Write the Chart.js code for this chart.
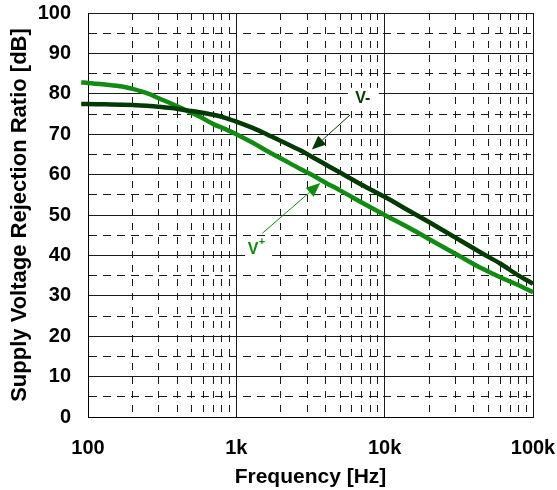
<!DOCTYPE html>
<html><head><meta charset="utf-8">
<script src="https://cdn.jsdelivr.net/npm/chart.js@4"></script>
<style>html,body{margin:0;padding:0;background:#fff}</style>
</head><body>
<canvas id="c" width="557" height="490"></canvas>
<script>
// ---- data ----
const freqHz   = [90, 100, 130, 170, 200, 260, 300, 380, 460, 550, 700, 850, 1000, 1300, 1600, 2000, 2700, 3200, 4000, 5000, 7000, 10000, 15000, 20000, 30000, 45000, 60000, 80000, 100000, 108000];
const vPlusDb  = [82.8, 82.7, 82.3, 81.8, 81.2, 79.9, 78.9, 77.3, 75.9, 74.6, 72.5, 71.2, 70.0, 67.8, 65.9, 64.0, 61.4, 60.0, 58.0, 56.1, 53.1, 50.0, 46.6, 44.0, 40.4, 36.8, 34.6, 32.6, 30.9, 30.3];
const vMinusDb = [77.5, 77.5, 77.4, 77.3, 77.2, 77.0, 76.8, 76.4, 75.9, 75.5, 74.8, 74.0, 73.1, 71.5, 70.0, 68.3, 66.0, 64.5, 62.5, 60.5, 57.5, 54.5, 50.8, 48.2, 44.4, 40.6, 38.0, 35.0, 33.0, 32.3];

const xTickValues = [100,200,300,400,500,600,700,800,900,1000,2000,3000,4000,5000,6000,7000,8000,9000,10000,20000,30000,40000,50000,60000,70000,80000,90000,100000];
const xDecades    = [100, 1000, 10000, 100000];
const xDecadeLabels = ['100', '1k', '10k', '100k'];
const yTickValues = [0,5,10,15,20,25,30,35,40,45,50,55,60,65,70,75,80,85,90,95,100];

// annotation anchors (Hz, dB)
const vMinusLabelAt = [7130, 79.0];
const vMinusArrow   = [[5860, 74.8], [3228, 66.2]];
const vPlusLabelAt  = [1297, 41.8];
const vPlusArrow    = [[1500, 45.5], [3680, 57.9]];

const COL_VPLUS = '#118b11';
const COL_VMINUS = '#033a03';
const FONT = '"Liberation Sans", Arial, Helvetica, sans-serif';

function isDecade(v){ return xDecades.indexOf(v) >= 0; }
function noPad(s){ s.paddingLeft = 0; s.paddingRight = 0; s.paddingTop = 0; s.paddingBottom = 0; }

const annoPlugin = {
  id: 'anno',
  afterDatasetsDraw(chart) {
    const {ctx, scales: {x, y}} = chart;
    const P = (p) => [x.getPixelForValue(p[0]), y.getPixelForValue(p[1])];
    function arrow(a, col) {
      const [x1, y1] = P(a[0]), [x2, y2] = P(a[1]);
      const ang = Math.atan2(y2 - y1, x2 - x1);
      const L = 14, W = 6;
      const bx = x2 - L * Math.cos(ang), by = y2 - L * Math.sin(ang);
      ctx.save();
      ctx.strokeStyle = col; ctx.fillStyle = col; ctx.lineWidth = 1;
      ctx.beginPath(); ctx.moveTo(x1, y1); ctx.lineTo(bx, by); ctx.stroke();
      ctx.beginPath();
      ctx.moveTo(x2, y2);
      ctx.lineTo(bx + W * Math.sin(ang), by - W * Math.cos(ang));
      ctx.lineTo(bx - W * Math.sin(ang), by + W * Math.cos(ang));
      ctx.closePath(); ctx.fill();
      ctx.restore();
    }
    ctx.save();
    // V- label
    let [lx, ly] = P(vMinusLabelAt);
    ctx.fillStyle = '#fff';
    ctx.fillRect(lx - 15, ly - 10, 31, 20);
    ctx.font = 'bold 16px ' + FONT;
    ctx.textAlign = 'center'; ctx.textBaseline = 'middle';
    ctx.fillStyle = COL_VMINUS;
    ctx.fillText('V-', lx, ly + 1);
    // V+ label
    [lx, ly] = P(vPlusLabelAt);
    ctx.fillStyle = '#fff';
    ctx.fillRect(lx - 8, ly - 12, 27, 22);
    ctx.fillStyle = COL_VPLUS;
    ctx.font = 'bold 16px ' + FONT;
    ctx.fillText('V', lx, ly + 1);
    ctx.font = 'bold 11px ' + FONT;
    ctx.fillText('+', lx + 9, ly - 6);
    ctx.restore();
    arrow(vMinusArrow, COL_VMINUS);
    arrow(vPlusArrow, COL_VPLUS);
  }
};

new Chart(document.getElementById('c'), {
  type: 'line',
  data: {
    datasets: [
      { label: 'V-', data: freqHz.map((f, i) => ({x: f, y: vMinusDb[i]})), borderColor: COL_VMINUS, borderWidth: 4.5,
        pointRadius: 0, cubicInterpolationMode: 'monotone', fill: false, clip: {left: 8, right: 8, top: 0, bottom: 0} },
      { label: 'V+', data: freqHz.map((f, i) => ({x: f, y: vPlusDb[i]})), borderColor: COL_VPLUS, borderWidth: 4.5,
        pointRadius: 0, cubicInterpolationMode: 'monotone', fill: false, clip: {left: 8, right: 8, top: 0, bottom: 0} }
    ]
  },
  options: {
    responsive: false, animation: false, devicePixelRatio: 1,
    layout: {padding: {left: 0, right: 24, top: 13, bottom: 0}},
    plugins: {legend: {display: false}, tooltip: {enabled: false}},
    scales: {
      x: {
        type: 'logarithmic', min: 100, max: 100000,
        afterBuildTicks: s => { s.ticks = xTickValues.map(v => ({value: v})); },
        afterFit: s => { s.height = 73; noPad(s); },
        ticks: {autoSkip: false, maxRotation: 0, padding: 19, color: '#000',
          font: {family: FONT, size: 20, weight: 'bold'},
          callback: (v) => { const k = xDecades.indexOf(v); return k >= 0 ? xDecadeLabels[k] : ''; }},
        grid: {drawTicks: false, color: '#1a1a1a', lineWidth: 1},
        border: {display: true, color: '#000', width: 1,
          dash: (ctx) => (!ctx.tick || isDecade(ctx.tick.value)) ? [] : [7, 7]},
        title: {display: true, text: 'Frequency [Hz]', color: '#000', padding: {top: 0, bottom: 0},
          font: {family: FONT, size: 21, weight: 'bold'}}
      },
      y: {
        type: 'linear', min: 0, max: 100,
        afterBuildTicks: s => { s.ticks = yTickValues.map(v => ({value: v})); },
        afterFit: s => { s.width = 88; noPad(s); },
        ticks: {autoSkip: false, padding: 17, color: '#000',
          font: {family: FONT, size: 20, weight: 'bold'},
          callback: (v) => (v % 10 === 0 ? String(v) : '')},
        grid: {drawTicks: false, color: '#1a1a1a', lineWidth: 1},
        border: {display: true, color: '#000', width: 1,
          dash: (ctx) => (!ctx.tick || ctx.tick.value % 10 === 0) ? [] : [8, 6]},
        title: {display: true, text: 'Supply Voltage Rejection Ratio [dB]', color: '#000', padding: {top: 7, bottom: 0},
          font: {family: FONT, size: 22, weight: 'bold'}}
      }
    }
  },
  plugins: [annoPlugin]
});
</script>
</body></html>
